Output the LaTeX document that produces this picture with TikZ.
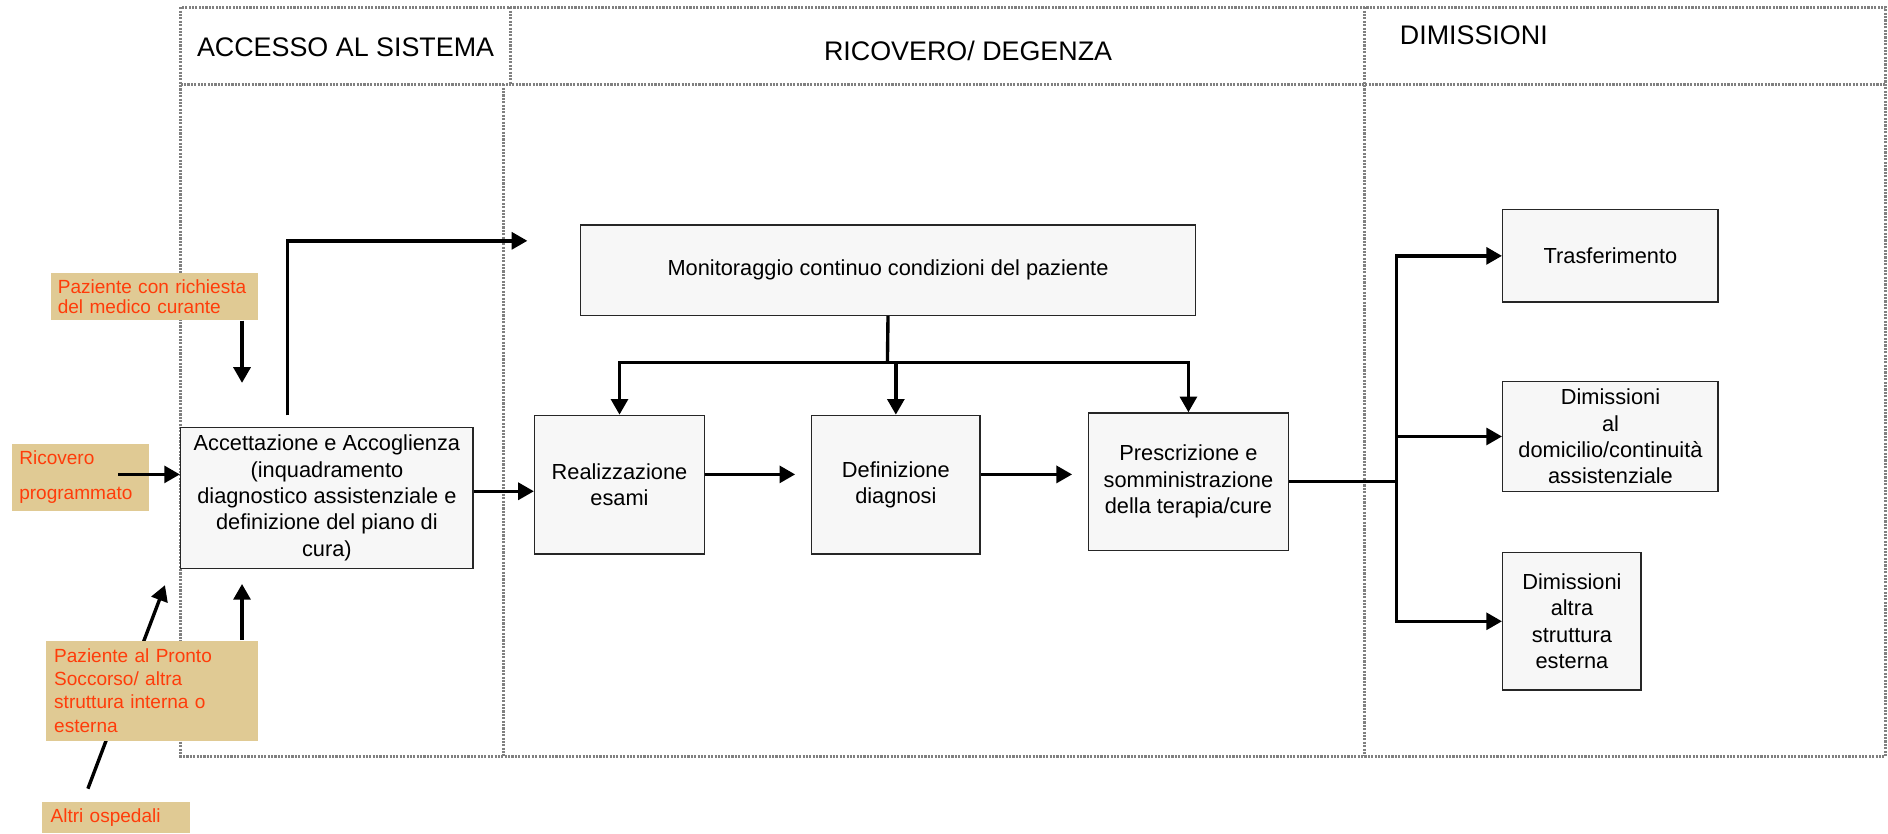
\documentclass[tikz,border=0pt]{standalone}
\usepackage{fontspec}
\setmainfont{Liberation Sans}
\usetikzlibrary{arrows.meta}

\definecolor{labelfill}{RGB}{224,202,148}
\definecolor{labeltext}{RGB}{255,60,10}
\definecolor{boxfill}{RGB}{247,247,247}
\definecolor{framegray}{RGB}{128,128,128}

\begin{document}
\begin{tikzpicture}[x = 0.02cm, y = -0.02cm]
	% Fix the page to the whole drawing area
	\useasboundingbox (0, 0) rectangle (1568, 692);

	% Styles for lanes, steps, sources and arrows
	\tikzset{
		frame/.style = {draw = framegray, line width = 1.4pt, dash pattern = on 1pt off 0.6pt},
		heading/.style = {font = \fontsize{12.7}{15}\selectfont},
		stepbox/.style = {draw = black!85, fill = boxfill, line width = 0.7pt, inner sep = 0pt, align = center, font = \fontsize{10.3}{12.5}\selectfont},
		source/.style = {fill = labelfill, text = labeltext, inner ysep = 0pt, align = left},
		line/.style = {line width = 1.6pt},
		thick arrow/.style = {line, -{Triangle[length = 0.26cm, width = 0.28cm]}}
	}

	% Draw the swim lanes
	\draw[frame] (150, 6) rectangle (1566, 628);
	\draw[frame] (150, 70) -- (1566, 70);
	\draw[frame] (424, 6) -- (424, 70);
	\draw[frame] (418, 70) -- (418, 628);
	\draw[frame] (1133, 6) -- (1133, 628);

	% Lane headings
	\node[heading] (accesso) at (287, 39) {ACCESSO AL SISTEMA};
	\node[heading] (degenza) at (804, 42) {RICOVERO/ DEGENZA};
	\node[heading] (dimissioni) at (1224, 29) {DIMISSIONI};

	% Process steps
	\node[stepbox, minimum width = 4.86cm, minimum height = 2.34cm] (accettazione) at (271.5, 413.5) {Accettazione e Accoglienza\\(inquadramento\\diagnostico assistenziale e\\definizione del piano di\\cura)};
	\node[stepbox, minimum width = 10.22cm, minimum height = 1.5cm] (monitoraggio) at (737.5, 224.5) {Monitoraggio continuo condizioni del paziente};
	\node[stepbox, minimum width = 2.82cm, minimum height = 2.3cm] (realizzazione) at (514.5, 402.5) {Realizzazione\\esami};
	\node[stepbox, minimum width = 2.8cm, minimum height = 2.3cm] (definizione) at (744, 402.5) {Definizione\\diagnosi};
	\node[stepbox, minimum width = 3.32cm, minimum height = 2.28cm] (prescrizione) at (987, 400) {Prescrizione e\\somministrazione\\della terapia/cure};
	\node[stepbox, minimum width = 3.58cm, minimum height = 1.54cm] (trasferimento) at (1337.5, 212.5) {Trasferimento};
	\node[stepbox, minimum width = 3.58cm, minimum height = 1.82cm] (domicilio) at (1337.5, 362.5) {Dimissioni\\al\\domicilio/continuità\\assistenziale};
	\node[stepbox, minimum width = 2.3cm, minimum height = 2.28cm] (esterna) at (1305.5, 516) {Dimissioni\\altra\\struttura\\esterna};

	% Arrow from other hospitals, partly hidden by the label above it
	\coordinate (ospedaliOut) at (73, 655);
	\coordinate (ospedaliEnd) at (137, 486);
	\draw[thick arrow] (ospedaliOut) -- (ospedaliEnd);

	% Where the patients come from
	\node[source, inner xsep = 0.12cm, text width = 3.2cm, minimum height = 0.78cm, font = \fontsize{9}{9.6}\selectfont] (richiesta) at (128, 246.5) {Paziente con richiesta\\del medico curante};
	\node[source, inner xsep = 0.12cm, text width = 2.04cm, minimum height = 1.1cm, font = \fontsize{9}{16.4}\selectfont] (programmato) at (67, 396.5) {Ricovero\\programmato};
	\node[source, inner xsep = 0.14cm, text width = 3.24cm, minimum height = 1.66cm, font = \fontsize{9}{11}\selectfont] (pronto) at (126, 573.5) {Paziente al Pronto\\Soccorso/ altra\\struttura interna o\\esterna};
	\node[source, inner xsep = 0.14cm, text width = 2.18cm, minimum height = 0.52cm, font = \fontsize{9}{11}\selectfont] (ospedali) at (96.5, 679) {Altri ospedali};

	% Arrows into the admission step
	\coordinate (richiestaEnd) at (201, 318);
	\draw[thick arrow] (richiesta.south -| richiestaEnd) -- (richiestaEnd);
	\coordinate (programmatoOut) at (98, 394);
	\draw[thick arrow] (programmatoOut) -- (programmatoOut -| accettazione.west);
	\coordinate (prontoEnd) at (201, 485);
	\draw[thick arrow] (pronto.north -| prontoEnd) -- (prontoEnd);

	% From admission to the ward
	\coordinate (accUp) at (239, 345);
	\coordinate (monitorIn) at (438, 200);
	\draw[thick arrow] (accUp) |- (monitorIn);
	\coordinate (rowA) at (0, 408);
	\draw[thick arrow] (accettazione.east |- rowA) -- (realizzazione.west |- rowA);

	% Steps in the ward
	\coordinate (rowB) at (0, 394);
	\draw[thick arrow, shorten >= 0.26cm] (realizzazione.east |- rowB) -- (definizione.west |- rowB);
	\draw[thick arrow, shorten >= 0.26cm] (definizione.east |- rowB) -- (prescrizione.west |- rowB);

	% Monitoring feeds every step
	\coordinate (split) at (737, 301);
	\draw[line] (monitoraggio.south) -- (split);
	\draw[thick arrow] (split) -| (realizzazione.north);
	\draw[thick arrow] (split) -| (definizione.north);
	\draw[thick arrow] (split) -| (prescrizione.north);

	% Discharge branches
	\coordinate (fork) at (1160, 400);
	\draw[line] (prescrizione.east) -- (fork);
	\draw[thick arrow] (fork) |- (trasferimento.west);
	\draw[thick arrow] (fork) |- (domicilio.west);
	\draw[thick arrow] (fork) |- (esterna.west);

\end{tikzpicture}
\end{document}
